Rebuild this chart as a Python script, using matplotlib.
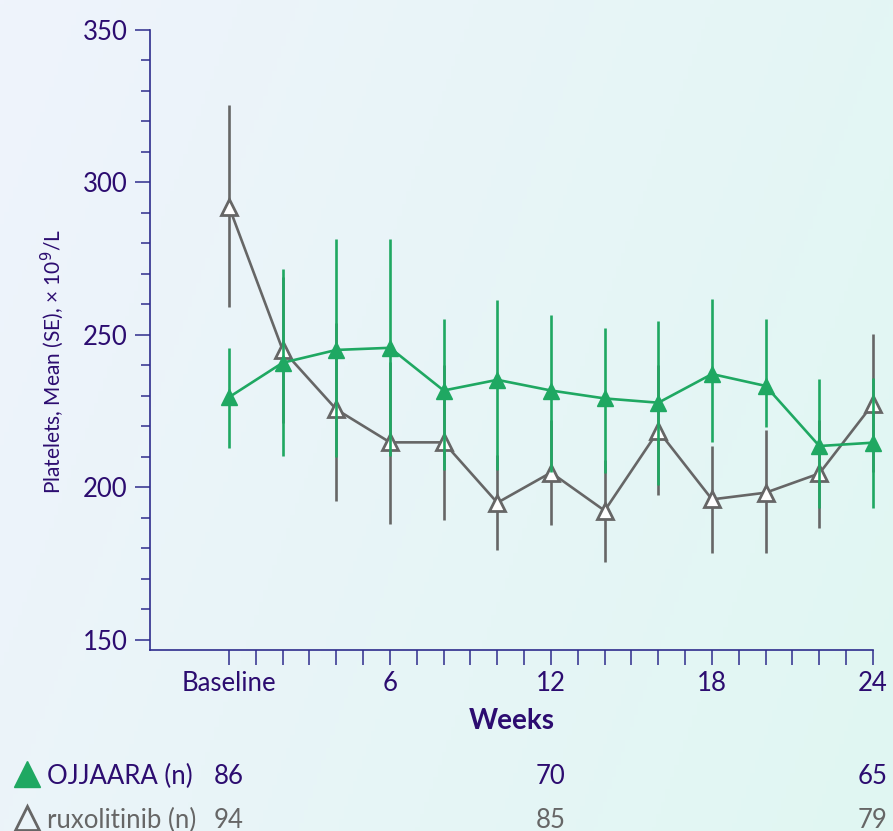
import numpy as np
import matplotlib
matplotlib.use("Agg")
import matplotlib.pyplot as plt
import matplotlib.transforms as mtransforms
from matplotlib.lines import Line2D
from matplotlib.ticker import MultipleLocator, FixedLocator

plt.rcParams['font.family'] = ['Lato', 'DejaVu Sans']

# data
weeks = [0, 2, 4, 6, 8, 10, 12, 14, 16, 18, 20, 22, 24]
ojjaara_mean = [229.6, 240.9, 245.1, 245.8, 231.8, 235.3, 231.8, 229.2, 227.8, 237.2, 233.3, 213.6, 214.7]
ojjaara_upper = [245.6, 271.5, 281.5, 281.5, 255.1, 261.5, 256.6, 252.2, 254.6, 261.8, 255.2, 235.6, 235.8]
ojjaara_lower = [213.0, 210.3, 209.9, 210.3, 205.9, 205.9, 205.2, 204.9, 200.8, 215.0, 219.9, 193.2, 193.2]

rux_mean = [292.1, 245.1, 225.6, 214.8, 214.8, 195.0, 204.9, 192.4, 218.6, 196.1, 198.3, 204.6, 227.4]
rux_upper = [325.4, 269.0, 254.0, 241.0, 240.0, 210.5, 222.0, 209.0, 240.0, 213.5, 219.0, 222.0, 250.2]
rux_lower = [259.3, 221.0, 195.7, 188.0, 189.3, 179.5, 187.7, 175.7, 197.5, 178.4, 178.4, 186.8, 205.0]

tick_weeks = [0, 6, 12, 18, 24]
tick_labels = ["Baseline", "6", "12", "18", "24"]

n_weeks = [0, 12, 24]
ojjaara_n = [86, 70, 65]
rux_n = [94, 85, 79]

GREEN = "#1fa862"
GRAY = "#666666"
PURPLE = "#2c0c70"
SPINE = "#2e2c8c"

fig = plt.figure(figsize=(8.93, 8.31), dpi=100)

# soft gradient background
bg = fig.add_axes([0, 0, 1, 1], zorder=-10)
gx, gy = np.meshgrid(np.linspace(0, 1, 200), np.linspace(0, 1, 200))
t = np.clip(0.75 * gx + 0.25 * gy, 0, 1)[..., None]
c1 = np.array([239, 243, 252]) / 255
c2 = np.array([224, 247, 242]) / 255
bg.imshow(c1 * (1 - t) + c2 * t, aspect="auto", extent=[0, 1, 0, 1], origin="upper")
bg.axis("off")

ax = fig.add_axes([150 / 893, 1 - 650 / 831, 723 / 893, 620 / 831])
ax.patch.set_alpha(0)

m_r = np.array(rux_mean)
m_o = np.array(ojjaara_mean)
err_r = [m_r - np.array(rux_lower), np.array(rux_upper) - m_r]
err_o = [m_o - np.array(ojjaara_lower), np.array(ojjaara_upper) - m_o]

eb = ax.errorbar(weeks, rux_mean, yerr=err_r, fmt="none", ecolor=GRAY, elinewidth=1.9, capsize=0, zorder=2)
for c in eb.lines[2]:
    c.set_clip_on(False)
ax.plot(weeks, rux_mean, color=GRAY, lw=1.9, marker="^", ms=12, mfc="white", mec=GRAY, mew=2,
        zorder=3, clip_on=False)
eb = ax.errorbar(weeks, ojjaara_mean, yerr=err_o, fmt="none", ecolor=GREEN, elinewidth=1.9, capsize=0, zorder=4)
for c in eb.lines[2]:
    c.set_clip_on(False)
ax.plot(weeks, ojjaara_mean, color=GREEN, lw=1.9, marker="^", ms=12, mfc=GREEN, mec=GREEN,
        zorder=5, clip_on=False)

ax.set_xlim(-2.944, 24)
ax.set_ylim(146.72, 350)

for s in ["top", "right"]:
    ax.spines[s].set_visible(False)
for s in ["left", "bottom"]:
    ax.spines[s].set_color(SPINE)
    ax.spines[s].set_linewidth(1.2)

ax.set_yticks([150, 200, 250, 300, 350])
ax.yaxis.set_minor_locator(MultipleLocator(10))
ax.set_xticks(tick_weeks)
ax.set_xticklabels(tick_labels)
ax.xaxis.set_minor_locator(FixedLocator(range(0, 25)))

ax.tick_params(axis="y", which="major", length=11, width=1.1, color=SPINE, pad=5,
               labelsize=18.5, labelcolor=PURPLE)
ax.tick_params(axis="y", which="minor", length=6.5, width=1.1, color=SPINE)
ax.tick_params(axis="x", which="both", length=11, width=1.1, color=SPINE, pad=4,
               labelsize=18.5, labelcolor=PURPLE)

ax.set_xlabel("Weeks", fontsize=20, fontweight="bold", color=PURPLE, labelpad=9)
fig.text(52 / 893, 1 - 362 / 831, "Platelets, Mean (SE), × 10$^9$/L", rotation=90,
         ha="center", va="center", fontsize=15, color=PURPLE)

# number-at-risk rows
trans = mtransforms.blended_transform_factory(ax.transData, fig.transFigure)
y1 = 1 - 776 / 831
y2 = 1 - 820 / 831
for w, n in zip(n_weeks, ojjaara_n):
    ax.text(w, y1, str(n), transform=trans, ha="center", va="center", fontsize=18.5,
            color=PURPLE, clip_on=False)
for w, n in zip(n_weeks, rux_n):
    ax.text(w, y2, str(n), transform=trans, ha="center", va="center", fontsize=18.5,
            color=GRAY, clip_on=False)

fig.add_artist(Line2D([27 / 893], [y1 + 0.002], transform=fig.transFigure, marker="^", ms=19,
                      mfc=GREEN, mec=GREEN, ls="none"))
fig.add_artist(Line2D([27 / 893], [y2 + 0.002], transform=fig.transFigure, marker="^", ms=17,
                      mfc="none", mec=GRAY, mew=2, ls="none"))
fig.text(47 / 893, y1, "OJJAARA (n)", ha="left", va="center", fontsize=18.5, color=PURPLE)
fig.text(47 / 893, y2, "ruxolitinib (n)", ha="left", va="center", fontsize=18.5, color=GRAY)

fig.savefig("out.png", dpi=100)
